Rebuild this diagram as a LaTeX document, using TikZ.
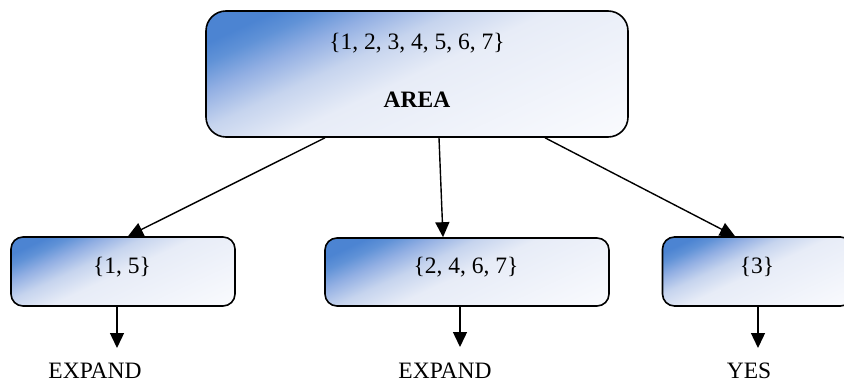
\documentclass[tikz,border=0pt]{standalone}
\usepackage{fontspec}
\setmainfont{Liberation Serif}
\usetikzlibrary{arrows.meta}

% blue-to-white fill of the boxes (top-left blue, fading to the lower right)
\definecolor{fadeA}{RGB}{76,132,210}
\definecolor{fadeAA}{RGB}{96,146,215}
\definecolor{fadeB}{RGB}{146,175,227}
\definecolor{fadeC}{RGB}{198,212,238}
\definecolor{fadeD}{RGB}{231,236,247}
\definecolor{fadeE}{RGB}{250,251,254}
\pgfdeclarehorizontalshading{boxfade}{100bp}{%
  color(0bp)=(fadeA); color(39.6bp)=(fadeA); color(41.2bp)=(fadeAA);
  color(43.5bp)=(fadeB); color(46.4bp)=(fadeC); color(50bp)=(fadeD);
  color(63bp)=(fadeE); color(100bp)=(fadeE)}

\tikzset{
  lbl/.style={inner sep=0pt, text=black},
  arr/.style={draw=black, line width=1.4pt,
    -{Triangle[length=15pt,width=14pt]}},
  boxrim/.style={draw=black, line width=1.6pt, inner sep=0pt},
}

% \fadebox{name}{x}{y}{width}{height}{corner radius}
% the fill runs at -65 degrees; the box spans 26bp of the shading along it
\newcommand\fadebox[6]{%
  \pgfmathsetmacro\fbS{(#4*0.4226+#5*0.9063)*50/26}%
  \begin{scope}
    \clip[rounded corners=#6pt] (#2-#4/2, #3-#5/2) rectangle (#2+#4/2, #3+#5/2);
    \shade[shading=boxfade, transform canvas={rotate around={-65:(#2,#3)}}]
      (#2-\fbS/2, #3-\fbS/2) rectangle (#2+\fbS/2, #3+\fbS/2);
  \end{scope}
  \node[boxrim, rounded corners=#6pt, minimum width=#4pt, minimum height=#5pt]
    (#1) at (#2,#3) {};%
}

\begin{document}
\begin{tikzpicture}[x=1pt, y=-1pt, font=\fontsize{23.5}{28}\selectfont]
\useasboundingbox (0,0) rectangle (844,383);
\clip (0,0) rectangle (844,383);

% root box
\fadebox{area}{417}{74}{422}{126}{20}
\node[lbl] (areaset) at (417,43) {\{1, 2, 3, 4, 5, 6, 7\}};
\node[lbl, font=\fontsize{23.5}{28}\selectfont\bfseries] (arealbl) at (417,100) {AREA};

% child boxes
\fadebox{s1}{123}{271.5}{224}{69}{12}
\node[lbl] (s1t) at (122,267) {\{1, 5\}};
\fadebox{s2}{467}{272}{284}{68}{12}
\node[lbl] (s2t) at (466,267.5) {\{2, 4, 6, 7\}};
\fadebox{s3}{757.5}{271.5}{190}{69}{12}
\node[lbl] (s3t) at (757,267) {\{3\}};

% edges from the root
\draw[arr] ([xshift=-92pt]area.south) -- ([xshift=5pt]s1.north);
\draw[arr] ([xshift=22pt]area.south) -- ([xshift=-24pt]s2.north);
\draw[arr] ([xshift=128pt]area.south) -- ([xshift=-22.5pt]s3.north);

% outcomes
\coordinate (e1) at (117,348);
\coordinate (e2) at (460,347);
\coordinate (e3) at (758,348);
\draw[arr] (s1.south -| e1) -- (e1);
\draw[arr] (s2.south -| e2) -- (e2);
\draw[arr] (s3.south -| e3) -- (e3);
\node[lbl] (o1) at (95,371) {EXPAND};
\node[lbl] (o2) at (445,371) {EXPAND};
\node[lbl] (o3) at (749,371) {YES};
\end{tikzpicture}
\end{document}
